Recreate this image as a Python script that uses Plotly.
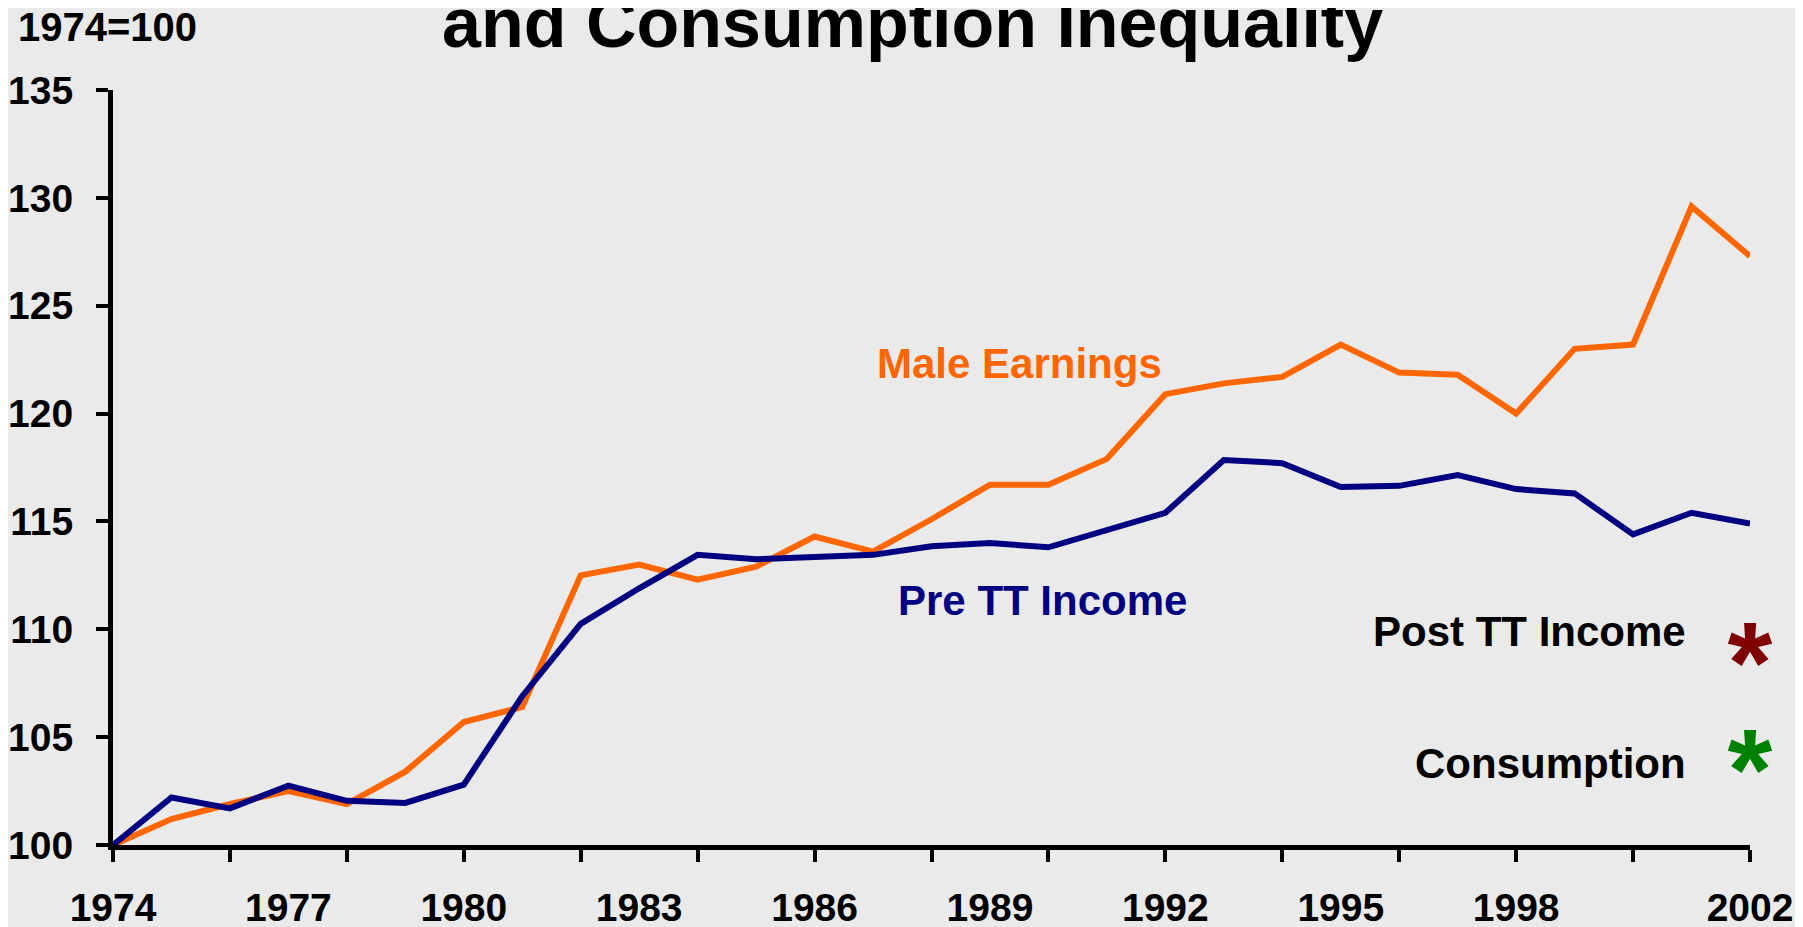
import plotly.graph_objects as go

# index values, 1974 = 100
years = list(range(1974, 2003))
male_earnings = [
    100.0, 101.2, 101.9, 102.5, 101.9, 103.4, 105.7, 106.4, 112.5, 113.0,
    112.3, 112.9, 114.3, 113.6, 115.1, 116.7, 116.7, 117.9, 120.9, 121.4,
    121.7, 123.2, 121.9, 121.8, 120.0, 123.0, 123.2, 129.6, 127.3,
]
pre_tt_income = [
    100.0, 102.2, 101.7, 102.75, 102.05, 101.95, 102.8, 106.9, 110.25, 111.9,
    113.45, 113.25, 113.35, 113.45, 113.85, 114.0, 113.8, 114.6, 115.4, 117.85,
    117.7, 116.6, 116.65, 117.15, 116.5, 116.3, 114.4, 115.4, 114.9,
]
marker_year = [2002]
post_tt_income_marker = [107.95]
consumption_marker = [103.0]

tick_years = list(range(1974, 2003, 2))
label_years = [1974, 1977, 1980, 1983, 1986, 1989, 1992, 1995, 1998, 2002]
y_ticks = [100, 105, 110, 115, 120, 125, 130, 135]

ORANGE = "#FF6600"
NAVY = "#000080"
DARK_RED = "#800000"
GREEN = "#008000"
BG = "#EAEAEA"
FONT = "Arial, 'Liberation Sans', sans-serif"

PLOT_W = 1803 - 105 - 61

fig = go.Figure()
fig.add_trace(
    go.Scatter(x=years, y=male_earnings, mode="lines", name="Male Earnings",
               line=dict(color=ORANGE, width=6))
)
fig.add_trace(
    go.Scatter(x=years, y=pre_tt_income, mode="lines", name="Pre TT Income",
               line=dict(color=NAVY, width=6))
)
fig.add_trace(
    go.Scatter(x=marker_year, y=post_tt_income_marker, mode="text", text=["*"],
               textfont=dict(family=FONT, size=115, color=DARK_RED, weight="bold"),
               xaxis="x2", cliponaxis=False, name="Post TT Income")
)
fig.add_trace(
    go.Scatter(x=marker_year, y=consumption_marker, mode="text", text=["*"],
               textfont=dict(family=FONT, size=115, color=GREEN, weight="bold"),
               xaxis="x2", cliponaxis=False, name="Consumption")
)

label_font = dict(family=FONT, size=42, weight="bold")
fig.add_annotation(x=1989.5, y=122.3, text="Male Earnings", showarrow=False,
                   font=dict(label_font, color=ORANGE), xanchor="center", yanchor="middle")
fig.add_annotation(x=1989.9, y=111.35, text="Pre TT Income", showarrow=False,
                   font=dict(label_font, color=NAVY), xanchor="center", yanchor="middle")
fig.add_annotation(x=2000.94, y=109.9, text="Post TT Income", showarrow=False,
                   font=dict(label_font, color="black"), xanchor="right", yanchor="middle")
fig.add_annotation(x=2000.94, y=103.8, text="Consumption", showarrow=False,
                   font=dict(label_font, color="black"), xanchor="right", yanchor="middle")
fig.add_annotation(x=-97 / PLOT_W, y=1.0, xref="paper", yref="paper", yshift=63,
                   text="1974=100", showarrow=False, xanchor="left", yanchor="middle",
                   font=dict(family=FONT, size=40, weight="bold", color="black"))
# main title (first line sits above the visible area in the original slide)
fig.add_annotation(x=799 / PLOT_W, y=1.0, xref="paper", yref="paper", yshift=67,
                   text="and Consumption Inequality", showarrow=False,
                   xanchor="center", yanchor="middle",
                   font=dict(family=FONT, size=70, weight="bold", color="black"))

fig.update_layout(
    width=1803,
    height=927,
    margin=dict(l=105, r=61, t=82, b=90, autoexpand=False),
    paper_bgcolor=BG,
    plot_bgcolor=BG,
    showlegend=False,
    xaxis=dict(
        range=[1974, 2002], tickvals=tick_years, ticktext=[""] * len(tick_years),
        ticks="outside", ticklen=12, tickwidth=4, tickcolor="black",
        showline=True, linewidth=5, linecolor="black",
        showgrid=False, zeroline=False,
    ),
    xaxis2=dict(
        range=[1974, 2002], overlaying="x", anchor="y", side="bottom",
        tickvals=label_years, ticktext=[str(y) for y in label_years],
        ticks="", showline=False, showgrid=False, zeroline=False,
        ticklabelstandoff=36,
        tickfont=dict(family=FONT, size=39, weight="bold", color="black"),
    ),
    yaxis=dict(
        range=[100, 135], tickvals=y_ticks,
        ticks="outside", ticklen=12, tickwidth=4, tickcolor="black",
        showline=True, linewidth=5, linecolor="black",
        showgrid=False, zeroline=False, ticklabelstandoff=15,
        tickfont=dict(family=FONT, size=39, weight="bold", color="black"),
    ),
)

fig.write_html("out.html")
